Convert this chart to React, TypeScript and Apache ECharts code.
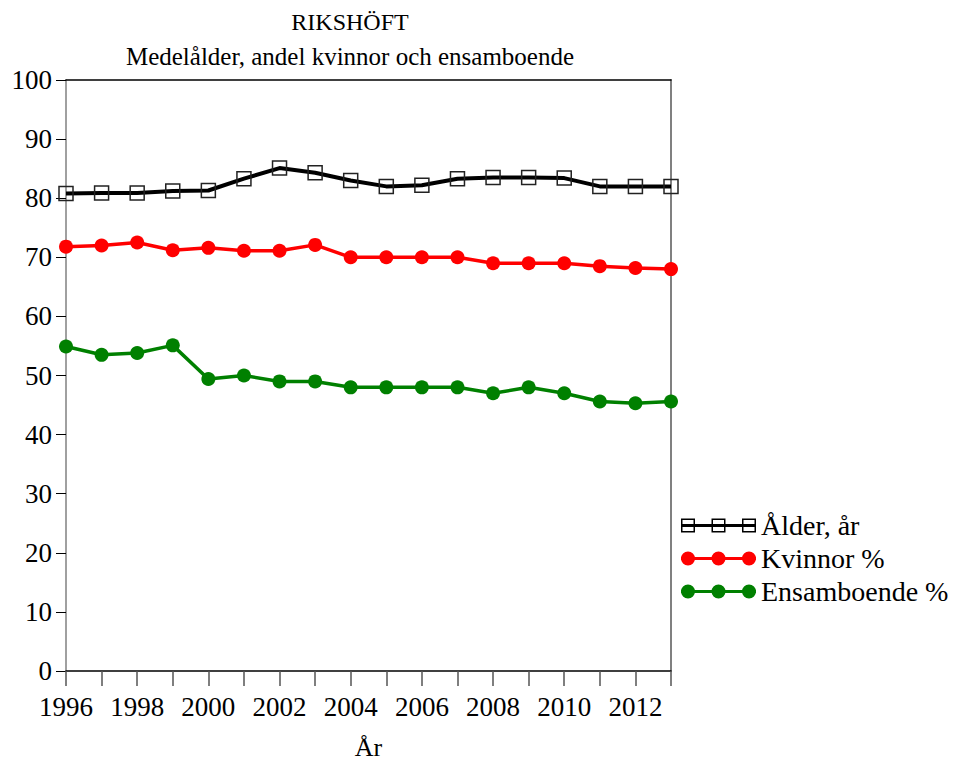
import React, { useEffect, useRef } from "react";
import * as echarts from "echarts";

const years = ["1996","1997","1998","1999","2000","2001","2002","2003","2004","2005","2006","2007","2008","2009","2010","2011","2012","2013"];
const alder = [80.8, 80.9, 80.9, 81.2, 81.3, 83.3, 85.1, 84.3, 83.0, 82.0, 82.2, 83.3, 83.5, 83.5, 83.4, 82.0, 82.0, 82.0];
const kvinnor = [71.8, 72.0, 72.5, 71.2, 71.6, 71.1, 71.1, 72.1, 70.0, 70.0, 70.0, 70.0, 69.0, 69.0, 69.0, 68.5, 68.2, 68.0];
const ensam = [54.9, 53.5, 53.8, 55.1, 49.4, 50.0, 49.0, 49.0, 48.0, 48.0, 48.0, 48.0, 47.0, 48.0, 47.0, 45.6, 45.3, 45.6];

const FONT = "'Liberation Serif', 'Times New Roman', serif";

const lineIcon = "M0 5.5 H75 V8.5 H0 Z";
const sq = (x: number) => `M${x} 0 H${x + 14} V14 H${x} Z M${x + 1.5} 1.5 V12.5 H${x + 12.5} V1.5 Z`;
const circ = (x: number) => `M${x} 7 A7 7 0 1 1 ${x + 14} 7 A7 7 0 1 1 ${x} 7 Z`;
const squareIcon = "path://" + lineIcon + " " + sq(0) + " " + sq(30.5) + " " + sq(61);
const circleIcon = "path://" + lineIcon + " " + circ(0) + " " + circ(30.5) + " " + circ(61);

export default function App() {
  const ref = useRef<HTMLDivElement>(null);
  useEffect(() => {
    if (!ref.current) return;
    const chart = echarts.init(ref.current, null, { renderer: "svg" });
    chart.setOption({
      animation: false,
      backgroundColor: "#fff",
      textStyle: { fontFamily: FONT },
      title: {
        text: "RIKSHÖFT",
        subtext: "Medelålder, andel kvinnor och ensamboende",
        left: 350,
        top: 10,
        padding: 0,
        itemGap: 10,
        textAlign: "center",
        textStyle: { fontFamily: FONT, fontSize: 24, fontWeight: "normal", color: "#000" },
        subtextStyle: { fontFamily: FONT, fontSize: 25, color: "#000" },
      },
      legend: {
        orient: "vertical",
        left: 681,
        top: 511,
        itemWidth: 75,
        itemHeight: 14,
        itemGap: 4,
        padding: 0,
        textStyle: { fontFamily: FONT, fontSize: 28, color: "#000", lineHeight: 29 },
        data: [
          { name: "Ålder, år", icon: squareIcon, itemStyle: { color: "#000", borderWidth: 0 } },
          { name: "Kvinnor %", icon: circleIcon, itemStyle: { color: "#ff0000", borderWidth: 0 } },
          { name: "Ensamboende %", icon: circleIcon, itemStyle: { color: "#008000", borderWidth: 0 } },
        ],
      },
      grid: { left: 66, right: 284, top: 80, bottom: 91, containLabel: false, outerBoundsMode: "none" },
      xAxis: [
        {
          type: "category",
          data: years,
          boundaryGap: false,
          axisLine: { lineStyle: { color: "#000", width: 1.5 } },
          axisTick: { show: true, interval: 0, length: 15, lineStyle: { color: "#555", width: 1.5 } },
          axisLabel: { interval: 1, margin: 22, fontFamily: FONT, fontSize: 27, color: "#000" },
          name: "År",
          nameLocation: "middle",
          nameGap: 63,
          nameTextStyle: { fontFamily: FONT, fontSize: 26, color: "#000" },
          splitLine: { show: false },
        },
        {
          type: "category",
          data: years,
          boundaryGap: false,
          position: "top",
          axisLine: { onZero: false, lineStyle: { color: "#000", width: 1.5 } },
          axisTick: { show: false },
          axisLabel: { show: false },
          splitLine: { show: false },
        },
      ],
      yAxis: [
        {
          type: "value",
          min: 0,
          max: 100,
          interval: 10,
          axisLine: { show: true, lineStyle: { color: "#808080", width: 1.5 } },
          axisTick: { show: true, length: 10, lineStyle: { color: "#000", width: 1 } },
          axisLabel: { margin: 14, fontFamily: FONT, fontSize: 27, color: "#000" },
          splitLine: { show: false },
        },
        {
          type: "value",
          min: 0,
          max: 100,
          interval: 10,
          position: "right",
          axisLine: { show: true, onZero: false, lineStyle: { color: "#808080", width: 2 } },
          axisTick: { show: false },
          axisLabel: { show: false },
          splitLine: { show: false },
        },
      ],
      series: [
        {
          name: "Ensamboende %",
          type: "line",
          data: ensam,
          symbol: "circle",
          symbolSize: 14,
          color: "#008000",
          lineStyle: { color: "#008000", width: 3.5 },
          itemStyle: { color: "#008000" },
        },
        {
          name: "Kvinnor %",
          type: "line",
          data: kvinnor,
          symbol: "circle",
          symbolSize: 14,
          color: "#ff0000",
          lineStyle: { color: "#ff0000", width: 3.5 },
          itemStyle: { color: "#ff0000" },
        },
        {
          name: "Ålder, år",
          type: "line",
          data: alder,
          symbol: "rect",
          symbolSize: 14,
          color: "#000",
          lineStyle: { color: "#000", width: 4 },
          itemStyle: { color: "rgba(0,0,0,0)", borderColor: "#222", borderWidth: 1.5 },
        },
      ],
    });
    return () => chart.dispose();
  }, []);
  return <div ref={ref} style={{ position: "absolute", left: 0, top: 0, width: 955, height: 762 }} />;
}
